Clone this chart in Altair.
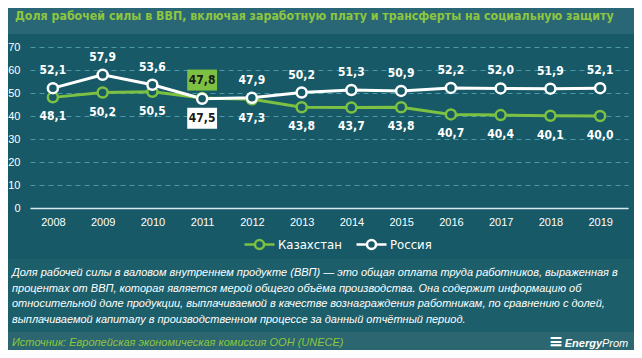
import altair as alt
import pandas as pd

# ---- data ----
years = [2008, 2009, 2010, 2011, 2012, 2013, 2014, 2015, 2016, 2017, 2018, 2019]
kazakhstan = [48.1, 50.2, 50.5, 47.8, 47.3, 43.8, 43.7, 43.8, 40.7, 40.4, 40.1, 40.0]
russia = [52.1, 57.9, 53.6, 47.5, 47.9, 50.2, 51.3, 50.9, 52.2, 52.0, 51.9, 52.1]
series_names = ["Казахстан", "Россия"]
y_ticks = [0, 10, 20, 30, 40, 50, 60, 70]

title_text = "Доля рабочей силы в ВВП, включая заработную плату и трансферты на социальную защиту"
desc_lines = [
    " Доля рабочей силы в валовом внутреннем продукте (ВВП) — это общая оплата труда работников, выраженная в",
    "процентах от ВВП, которая является мерой общего объёма производства. Она содержит информацию об",
    "относительной доле продукции, выплачиваемой в качестве вознаграждения работникам, по сравнению с долей,",
    "выплачиваемой капиталу в производственном процессе за данный отчётный период.",
]
source_text = "Источник: Европейская экономическая комиссия ООН (UNECE)"

# ---- style ----
BG = "#175966"
BAR = "#2a6776"
FOOT = "#2c6670"
GREEN = "#7cc142"
WHITE = "#ffffff"
GRID = "#4a98a8"
COND = "DejaVu Sans Condensed, sans-serif"
SANS = "Liberation Sans, Arial, sans-serif"

W, H = 598, 161
Y_MAX = 70
PX = H / Y_MAX  # pixels per unit

df = pd.DataFrame({"year": years, series_names[0]: kazakhstan, series_names[1]: russia})

base = alt.Chart(df).transform_fold(series_names, as_=["series", "value"]).transform_calculate(
    top="datum.value >= max(datum['Казахстан'], datum['Россия'])",
    hl="datum['Казахстан'] > datum['Россия']",
    label="replace(format(datum.value, '.1f'), '.', ',')",
)

xscale = alt.Scale(domain=[2007.54, 2019.56], nice=False, zero=False)
xaxis = alt.Axis(
    values=years, format="d", title=None, grid=False, ticks=False,
    domainColor="#d8eaee", domainWidth=1.5, labelColor=WHITE, labelFontSize=11,
    labelFont=SANS, labelPadding=8, labelFlush=False, labelOverlap=False,
)
yscale = alt.Scale(domain=[0, Y_MAX], nice=False)
yaxis = alt.Axis(
    values=y_ticks, title=None, ticks=False, domain=False, grid=True,
    gridColor=GRID, gridDash=[5, 4], gridWidth=1, labelColor=WHITE,
    labelFontSize=11, labelFont=SANS, labelPadding=10, labelOverlap=False,
    labelFlush=False,
)


def X(field):
    return alt.X(field, scale=xscale, axis=xaxis)


def Y(field):
    return alt.Y(field, scale=yscale, axis=yaxis)


stroke_scale = alt.Scale(domain=series_names, range=[GREEN, WHITE])
legend_path = "M-1,0L-0.3,0M0.3,0L1,0M-0.3,0A0.3,0.3,0,1,1,0.3,0A0.3,0.3,0,1,1,-0.3,0Z"

lines = base.mark_line(strokeWidth=3).encode(
    x=X("year:Q"), y=Y("value:Q"),
    stroke=alt.Stroke("series:N", scale=stroke_scale, title=None, legend=alt.Legend(
        orient="none", legendX=213, legendY=181, direction="horizontal",
        symbolType=legend_path, symbolSize=900, symbolStrokeWidth=2.5,
        symbolFillColor=BG, labelColor=WHITE, labelFontSize=13, labelFont=COND,
        labelOffset=2, columnPadding=9, padding=0,
    )),
    detail="series:N",
)
points = base.mark_point(filled=False, fill=BG, fillOpacity=1, opacity=1, size=100, strokeWidth=2.5).encode(
    x=X("year:Q"), y=Y("value:Q"), stroke=alt.Stroke("series:N", scale=stroke_scale, legend=None),
)

box_h = 10.5 / PX
boxes = base.transform_filter("datum.hl").transform_calculate(
    bx="datum.year - 0.3", bx2="datum.year + 0.3",
    cy="datum.value + (datum.top ? 18 : -19.5) / " + str(PX),
).transform_calculate(
    by="datum.cy - " + str(box_h), by2="datum.cy + " + str(box_h),
).mark_rect().encode(
    x=X("bx:Q"), x2="bx2:Q", y=Y("by:Q"), y2="by2:Q",
    fill=alt.condition("datum.series == 'Казахстан'", alt.value(GREEN), alt.value(WHITE)),
)

label_color = alt.condition("datum.hl", alt.value("#1a1a1a"), alt.value(WHITE))
labels_top = base.transform_filter("datum.top").mark_text(
    dy=-18, fontSize=12, fontWeight="bold", font=COND, baseline="middle"
).encode(x=X("year:Q"), y=Y("value:Q"), text="label:N", color=label_color)
labels_bot = base.transform_filter("!datum.top").mark_text(
    dy=19, fontSize=12, fontWeight="bold", font=COND, baseline="middle"
).encode(x=X("year:Q"), y=Y("value:Q"), text="label:N", color=label_color)

one = alt.Data(values=[{"a": 1}])
title_bar = alt.Chart(one).mark_rect(fill=BAR).encode(
    x=alt.value(-30), x2=alt.value(620), y=alt.value(-47), y2=alt.value(-13)
)
foot_bar = alt.Chart(one).mark_rect(fill=FOOT).encode(
    x=alt.value(-30), x2=alt.value(620), y=alt.value(285), y2=alt.value(320)
)
desc_bg = alt.Chart(one).mark_rect(fill="#1c5e6a").encode(
    x=alt.value(-30), x2=alt.value(620), y=alt.value(212), y2=alt.value(285)
)
title = alt.Chart(one).mark_text(
    align="left", baseline="middle", font=COND, fontSize=12.3, fontWeight="bold", color="#8dc63f"
).encode(x=alt.value(-15), y=alt.value(-31), text=alt.value(title_text))
desc = alt.Chart(one).mark_text(
    align="left", baseline="middle", font=SANS, fontSize=11, fontStyle="italic",
    color=WHITE, lineHeight=15.7,
).encode(x=alt.value(-18), y=alt.value(226), text=alt.value(desc_lines))
source = alt.Chart(one).mark_text(
    align="left", baseline="middle", font=SANS, fontSize=11, fontStyle="italic", color="#8dc63f"
).encode(x=alt.value(-18), y=alt.value(296), text=alt.value(source_text))
logo_icon = alt.Chart(one).mark_text(
    align="right", baseline="middle", font="DejaVu Sans", fontSize=17, fontWeight="bold",
    fontStyle="italic", color=WHITE,
).encode(x=alt.value(533), y=alt.value(295), text=alt.value("≡"))
logo_a = alt.Chart(one).mark_text(
    align="right", baseline="middle", font=SANS, fontSize=11, fontWeight="bold",
    fontStyle="italic", color=WHITE,
).encode(x=alt.value(572), y=alt.value(297), text=alt.value("Energy"))
logo_b = alt.Chart(one).mark_text(
    align="left", baseline="middle", font=SANS, fontSize=11, fontStyle="italic", color=WHITE,
).encode(x=alt.value(572), y=alt.value(297), text=alt.value("Prom"))

chart = alt.layer(
    title_bar, desc_bg, foot_bar, lines, points, boxes, labels_top, labels_bot,
    title, desc, source, logo_icon, logo_a, logo_b,
).properties(
    width=W, height=H,
    autosize=alt.AutoSizeParams(type="none"),
    padding={"left": 22, "top": 39, "right": 6, "bottom": 142},
    background=BG,
).configure_view(stroke=None)

chart.save("out.html", embed_options={"renderer": "svg", "actions": False})
